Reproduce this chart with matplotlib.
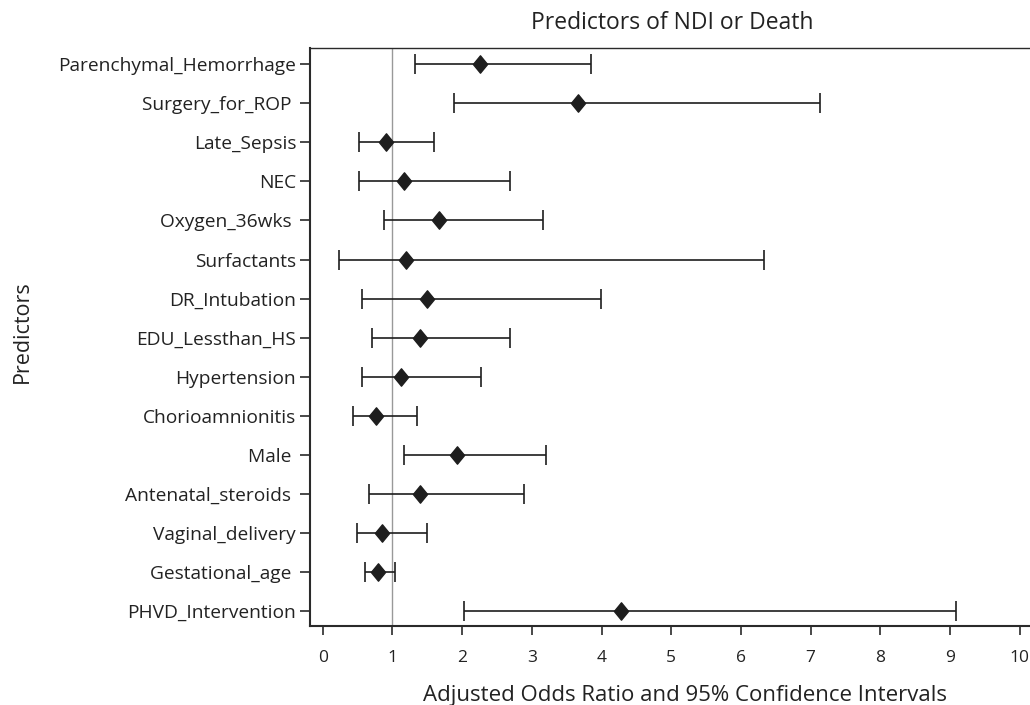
import numpy as np
import matplotlib.pyplot as plt
from matplotlib.path import Path

# predictors, top to bottom
predictors = ['Parenchymal_Hemorrhage', 'Surgery_for_ROP ', 'Late_Sepsis', 'NEC',
              'Oxygen_36wks ', 'Surfactants', 'DR_Intubation', 'EDU_Lessthan_HS',
              'Hypertension', 'Chorioamnionitis', 'Male ', 'Antenatal_steroids ',
              'Vaginal_delivery', 'Gestational_age ', 'PHVD_Intervention']
odds_ratio = [2.26, 3.66, 0.91, 1.17, 1.67, 1.19, 1.50, 1.39, 1.13, 0.76, 1.92, 1.39, 0.85, 0.79, 4.28]
ci_low = [1.33, 1.89, 0.52, 0.52, 0.88, 0.23, 0.57, 0.71, 0.56, 0.43, 1.16, 0.67, 0.49, 0.60, 2.02]
ci_high = [3.85, 7.13, 1.59, 2.68, 3.16, 6.33, 3.99, 2.69, 2.27, 1.35, 3.20, 2.89, 1.49, 1.04, 9.09]
xticks = list(range(0, 11))

plt.rcParams['font.family'] = ['Open Sans', 'DejaVu Sans']
txt = '#222222'

fig = plt.figure(figsize=(10.3, 7.05), dpi=100)
ax = fig.add_axes([0.301, 0.1121, 0.7087, 0.8194])

ypos = np.arange(len(predictors))
orr = np.array(odds_ratio)
lo = orr - np.array(ci_low)
hi = np.array(ci_high) - orr

# diamond a bit taller than wide
diamond = Path([(0, 1), (0.82, 0), (0, -1), (-0.82, 0), (0, 1)],
               [Path.MOVETO, Path.LINETO, Path.LINETO, Path.LINETO, Path.CLOSEPOLY])

ax.axvline(1, color='#999999', lw=1.0, zorder=1)
ax.errorbar(orr, ypos, xerr=[lo, hi], fmt='none', ecolor='#1e1e1e',
            elinewidth=1.2, capsize=7.2, capthick=1.2, zorder=2)
ax.plot(orr, ypos, ls='none', marker=diamond, ms=12.5, color='#1e1e1e', zorder=3)

ax.set_xlim(-0.182, 10.29)
ax.set_ylim(14.384, -0.41)
ax.set_yticks(ypos)
ax.set_yticklabels(predictors)
ax.set_xticks(xticks)

ax.spines['right'].set_visible(False)
ax.spines['left'].set_linewidth(1.5)
ax.spines['bottom'].set_linewidth(1.5)
ax.spines['top'].set_linewidth(1.0)
for s in ax.spines.values():
    s.set_color('#2a2a2a')

ax.tick_params(axis='y', length=7, width=1.2, pad=3, labelsize=13.8, colors='#2a2a2a', labelcolor=txt)
ax.tick_params(axis='x', length=6.5, width=1.2, pad=10.5, labelsize=12.5, colors='#2a2a2a', labelcolor=txt)

fig.text(672 / 1030, 1 - 23 / 705, 'Predictors of NDI or Death', fontsize=16.5,
         color=txt, ha='center', va='center')
fig.text(685 / 1030, 1 - 695 / 705, 'Adjusted Odds Ratio and 95% Confidence Intervals',
         fontsize=16, color=txt, ha='center', va='center')
fig.text(22 / 1030, 1 - 332 / 705, 'Predictors', rotation=90, fontsize=15.5,
         color=txt, ha='center', va='center')

fig.savefig('out.png', dpi=100)
